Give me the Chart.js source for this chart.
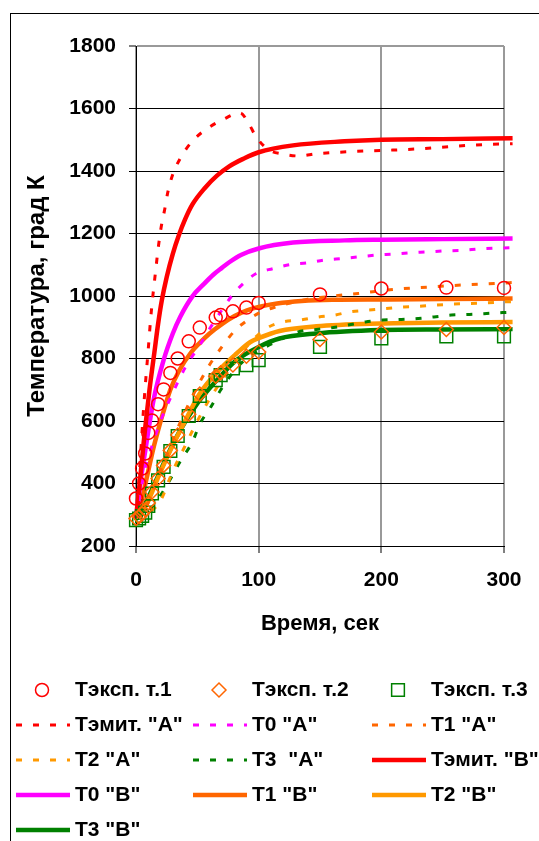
<!DOCTYPE html>
<html>
<head>
<meta charset="utf-8">
<script src="https://cdn.jsdelivr.net/npm/chart.js@4.4.0/dist/chart.umd.min.js"></script>
<style>
  html, body { margin: 0; padding: 0; background: #fff; }
  #wrap { position: relative; width: 539px; height: 841px; overflow: hidden; }
  #frame { position: absolute; left: 10px; top: 13px; width: 600px; height: 900px;
           border-left: 1px solid #000; border-top: 1px solid #000; }
  canvas { display: block; position: absolute; left: 0; top: 0; }
</style>
</head>
<body>
<div id="wrap">
  <div id="frame"></div>
  <canvas id="chart" width="539" height="841"></canvas>
</div>
<script>
// experimental points (same sample times for all three thermocouples)
const expTime = [0, 2.5, 5, 7.5, 10, 13, 18, 22.5, 28, 34, 43, 52, 65, 69, 79, 90, 100, 150, 200, 253, 300];
const exp1 = [352, 400, 448, 496, 562, 602, 654, 701, 754, 800, 855, 899, 931, 939, 951, 963, 978, 1005, 1024, 1027, 1026];
const exp2 = [288, 294, 303, 316, 338, 373, 416, 458, 506, 555, 622, 686, 743, 754, 779, 807, 821, 861, 885, 893, 899];
const exp3 = [283, 288, 296, 307, 328, 368, 410, 453, 504, 552, 616, 680, 731, 747, 768, 779, 795, 837, 864, 871, 871];

// model "A" (dashed)
const emitATime = [0, 2, 4, 6, 8, 10, 12, 14, 16, 18, 20.5, 23.3, 26, 29.8, 36, 45.6, 57, 71, 85, 92, 98, 108, 119, 133, 147, 175, 203, 231, 259, 287, 307];
const emitA = [290, 390, 510, 630, 735, 830, 930, 1010, 1080, 1150, 1220, 1275, 1333, 1387, 1440, 1494, 1533, 1565, 1586, 1551, 1509, 1468, 1455, 1448, 1455, 1462, 1466, 1471, 1479, 1485, 1487];
const t0ATime = [0, 4, 7.6, 13, 20, 30, 40, 52, 60.5, 70, 79, 88, 98, 112, 125, 140, 154, 168, 181, 196, 210, 223, 237, 250, 265, 282, 307];
const t0A = [290, 380, 450, 520, 600, 690, 770, 843, 898, 955, 1005, 1042, 1072, 1088, 1100, 1106, 1115, 1120, 1125, 1131, 1134, 1138, 1141, 1144, 1146, 1151, 1155];
const t1ATime = [0, 5, 10, 15, 20, 30, 40, 50, 60, 70, 81, 90, 100, 110, 120, 139, 150, 168, 181, 210, 240, 265, 292, 307];
const t1A = [290, 305, 340, 390, 440, 540, 630, 710, 780, 837, 891, 920, 945, 960, 972, 989, 995, 1003, 1008, 1021, 1029, 1035, 1040, 1043];
const t2ATime = [0, 10, 20, 30, 40, 50, 60, 70, 80, 93, 106, 120, 134, 149, 162, 174, 189, 204, 218, 231, 245, 258, 272, 286, 299, 307];
const t2A = [290, 305, 345, 440, 520, 600, 670, 730, 785, 850, 896, 917, 923, 933, 939, 949, 955, 960, 965, 967, 971, 974, 976, 978, 981, 982];
const t3ATime = [0, 10, 21, 29, 37, 46, 52, 61, 69, 81, 90, 100, 115, 134, 147, 161, 187, 201, 216, 230, 243, 257, 272, 286, 299, 307];
const t3A = [285, 310, 368, 421, 477, 533, 590, 645, 699, 765, 800, 825, 855, 887, 893, 899, 917, 923, 925, 928, 933, 939, 941, 944, 947, 948];

// model "B" (solid)
const emitBTime = [0, 3, 7, 11, 15, 18, 21, 25, 30, 35, 40, 46, 56, 66, 76, 88, 100, 128, 170, 200, 250, 307];
const emitB = [290, 400, 560, 700, 820, 910, 985, 1060, 1135, 1195, 1245, 1293, 1345, 1385, 1415, 1440, 1460, 1482, 1495, 1500, 1502, 1505];
const t0BTime = [0, 1, 3.5, 7.6, 14.3, 22.5, 30, 36, 46, 55, 63, 70, 76, 86, 100, 128, 170, 200, 250, 307];
const t0B = [290, 320, 400, 506, 667, 795, 880, 933, 999, 1037, 1068, 1090, 1108, 1132, 1152, 1171, 1178, 1180, 1182, 1184];
const t1BTime = [0, 3, 6, 10, 14, 18, 22, 28, 35, 45, 52, 60, 70, 80, 90, 100, 115, 135, 160, 200, 250, 307];
const t1B = [290, 320, 370, 440, 510, 570, 625, 700, 760, 820, 850, 880, 910, 935, 953, 965, 976, 984, 988, 989, 990, 992];
const t2BTime = [0, 5, 9, 17, 28, 39, 52, 69, 82, 93, 100, 117, 147, 199, 250, 307];
const t2B = [290, 310, 336, 410, 506, 592, 688, 768, 816, 852, 865, 888, 903, 912, 915, 917];
const t3BTime = [0, 3.5, 14, 25, 36, 50, 66, 82, 100, 117, 147, 199, 250, 307];
const t3B = [285, 304, 389, 485, 570, 656, 731, 795, 837, 864, 880, 891, 893, 894];

const xTicks = [0, 100, 200, 300];
const yTicks = [200, 400, 600, 800, 1000, 1200, 1400, 1600, 1800];

const RED = '#ff0000', MAGENTA = '#ff00ff', ORANGE = '#ff6600', AMBER = '#ff9900', GREEN = '#008000';
const FONT = '"Liberation Sans", Arial, sans-serif';
const DASH = [6, 11];

function pts(t, v) {
  return t.map((x, i) => ({ x: x, y: v[i] }));
}

function markers(label, values, color, style, radius) {
  return {
    label, data: pts(expTime, values), showLine: false,
    pointStyle: style, pointRadius: radius, pointBorderWidth: 1.5,
    borderColor: color, pointBorderColor: color,
    backgroundColor: 'rgba(0,0,0,0)', pointBackgroundColor: 'rgba(0,0,0,0)',
    clip: false
  };
}

function curve(label, t, values, color, dashed) {
  return {
    label, data: pts(t, values), borderColor: color,
    borderWidth: dashed ? 3 : 4.5, borderDash: dashed ? DASH : [],
    pointRadius: 0, fill: false, cubicInterpolationMode: 'monotone',
    clip: false
  };
}

// legend laid out in three fixed columns, like the original
const LEGEND_COLS = [16, 193, 372];
const LEGEND_ROW0 = 690;
const LEGEND_ROW_H = 35;

const gridLegend = {
  id: 'gridLegend',
  afterDraw(chart) {
    const ctx = chart.ctx;
    ctx.save();
    chart.data.datasets.forEach((ds, i) => {
      const sx = LEGEND_COLS[i % 3];
      const y = LEGEND_ROW0 + Math.floor(i / 3) * LEGEND_ROW_H;
      ctx.strokeStyle = ds.borderColor;
      if (ds.showLine === false) {
        const cx = sx + 26, r = ds.pointRadius;
        ctx.lineWidth = ds.pointBorderWidth;
        ctx.setLineDash([]);
        ctx.beginPath();
        if (ds.pointStyle === 'circle') {
          ctx.arc(cx, y, r, 0, Math.PI * 2);
        } else if (ds.pointStyle === 'rectRot') {
          ctx.moveTo(cx - r, y); ctx.lineTo(cx, y - r); ctx.lineTo(cx + r, y); ctx.lineTo(cx, y + r); ctx.closePath();
        } else {
          const h = r * Math.SQRT1_2;
          ctx.rect(cx - h, y - h, 2 * h, 2 * h);
        }
        ctx.stroke();
      } else {
        ctx.lineWidth = ds.borderWidth;
        ctx.setLineDash(ds.borderDash);
        ctx.beginPath();
        ctx.moveTo(sx, y);
        ctx.lineTo(sx + 54, y);
        ctx.stroke();
      }
      ctx.setLineDash([]);
      ctx.fillStyle = '#000';
      ctx.font = 'bold 21px ' + FONT;
      ctx.textAlign = 'left';
      ctx.textBaseline = 'middle';
      ctx.fillText(ds.label, sx + 59, y);
    });
    ctx.restore();
  }
};

new Chart(document.getElementById('chart'), {
  type: 'line',
  data: {
    datasets: [
      markers('Тэксп. т.1', exp1, RED, 'circle', 6.5),
      markers('Тэксп. т.2', exp2, ORANGE, 'rectRot', 7),
      markers('Тэксп. т.3', exp3, GREEN, 'rect', 9),
      curve('Тэмит. "А"', emitATime, emitA, RED, true),
      curve('Т0 "А"', t0ATime, t0A, MAGENTA, true),
      curve('Т1 "А"', t1ATime, t1A, ORANGE, true),
      curve('Т2 "А"', t2ATime, t2A, AMBER, true),
      curve('Т3  "А"', t3ATime, t3A, GREEN, true),
      curve('Тэмит. "В"', emitBTime, emitB, RED, false),
      curve('Т0 "В"', t0BTime, t0B, MAGENTA, false),
      curve('Т1 "В"', t1BTime, t1B, ORANGE, false),
      curve('Т2 "В"', t2BTime, t2B, AMBER, false),
      curve('Т3 "В"', t3BTime, t3B, GREEN, false)
    ]
  },
  options: {
    responsive: false,
    animation: false,
    layout: { padding: { left: 0, right: 35, top: 46, bottom: 195 } },
    plugins: { legend: { display: false }, tooltip: { enabled: false } },
    scales: {
      x: {
        type: 'linear', min: 0, max: 300,
        afterBuildTicks: s => { s.ticks = xTicks.map(v => ({ value: v })); },
        afterFit: s => { s.height = 100; },
        ticks: { color: '#000', padding: 15, font: { family: FONT, size: 21, weight: 'bold' },
                 callback: v => String(v) },
        grid: { color: '#999', lineWidth: 2, tickColor: '#000', tickWidth: 1, tickLength: 7 },
        border: { color: '#000', width: 1 },
        title: { display: true, text: 'Время, сек', color: '#000',
                 font: { family: FONT, size: 22, weight: 'bold' }, padding: { top: 0, bottom: 9 } }
      },
      y: {
        type: 'linear', min: 200, max: 1800,
        afterBuildTicks: s => { s.ticks = yTicks.map(v => ({ value: v })); },
        afterFit: s => { s.width = 136; },
        ticks: { color: '#000', padding: 13, font: { family: FONT, size: 21, weight: 'bold' },
                 callback: v => String(v) },
        grid: { color: c => (c.tick && c.tick.value === 1800) ? '#999' : '#000',
                lineWidth: c => (c.tick && c.tick.value === 1800) ? 2 : 1,
                tickColor: '#000', tickWidth: 1, tickLength: 7 },
        border: { color: '#000', width: 1 },
        title: { display: true, text: 'Температура, град К', color: '#000',
                 font: { family: FONT, size: 24, weight: 'bold' }, padding: { top: 23, bottom: 0 } }
      }
    }
  },
  plugins: [gridLegend]
});
</script>
</body>
</html>
